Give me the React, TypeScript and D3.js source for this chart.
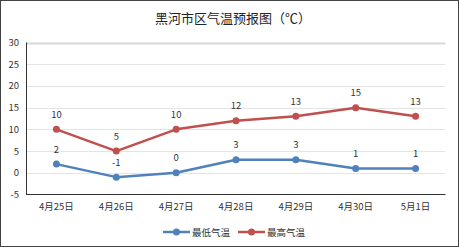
import React, { useEffect, useRef } from "react";
import * as d3 from "d3";

const categories = ["4月25日", "4月26日", "4月27日", "4月28日", "4月29日", "4月30日", "5月1日"];
const lowTemps = [2, -1, 0, 3, 3, 1, 1];
const highTemps = [10, 5, 10, 12, 13, 15, 13];
const yTicks = [-5, 0, 5, 10, 15, 20, 25, 30];
const seriesNames = ["最低气温", "最高气温"];
const title = "黑河市区气温预报图（℃）";

const W = 459, H = 247;
const FONT = "'Noto Sans CJK SC', 'DejaVu Sans', sans-serif";

export default function App() {
  const ref = useRef<SVGSVGElement>(null);
  useEffect(() => {
    const svg = d3.select(ref.current);
    svg.selectAll("*").remove();
    svg.append("rect").attr("x", 0.5).attr("y", 0.5).attr("width", W - 1).attr("height", H - 1)
      .attr("fill", "#fff").attr("stroke", "#444").attr("stroke-width", 1);

    const x = d3.scaleBand().domain(categories).range([26.5, 445.5]);
    const y = d3.scaleLinear().domain([-5, 30]).range([194.5, 42.5]);

    svg.append("text").attr("x", 233).attr("y", 23).attr("text-anchor", "middle")
      .attr("font-family", FONT).attr("font-size", 13).attr("fill", "#222").text(title);

    // grid
    svg.selectAll(".grid").data(yTicks.filter(t => t !== -5)).enter().append("line")
      .attr("x1", 26.5).attr("x2", 445.5)
      .attr("y1", d => Math.round(y(d)) + 0.5).attr("y2", d => Math.round(y(d)) + 0.5)
      .attr("stroke", d => (d === 30 ? "#d8d8d8" : "#e4e4e4")).attr("stroke-width", d => (d === 30 ? 2 : 1));

    // axes
    svg.append("line").attr("x1", 26.5).attr("x2", 26.5).attr("y1", y(30)).attr("y2", y(-5) + 0.5)
      .attr("stroke", "#333");
    svg.append("line").attr("x1", 26.5).attr("x2", 445.5).attr("y1", 194.5).attr("y2", 194.5)
      .attr("stroke", "#333");

    svg.selectAll(".yl").data(yTicks).enter().append("text")
      .attr("x", 19).attr("y", d => y(d) + 3.5).attr("text-anchor", "end")
      .attr("font-family", FONT).attr("font-size", 9.5).attr("fill", "#333").text(d => d);

    svg.selectAll(".xl").data(categories).enter().append("text")
      .attr("x", d => (x(d) as number) + x.bandwidth() / 2).attr("y", 210).attr("text-anchor", "middle")
      .attr("font-family", FONT).attr("font-size", 9.5).attr("fill", "#333").text(d => d);

    const series = [
      { name: seriesNames[0], values: lowTemps, color: "#4F81BD" },
      { name: seriesNames[1], values: highTemps, color: "#C0504D" },
    ];
    const cx = (i: number) => (x(categories[i]) as number) + x.bandwidth() / 2;
    const line = d3.line<number>().x((_, i) => cx(i)).y(d => y(d));
    series.forEach(s => {
      svg.append("path").attr("d", line(s.values)).attr("fill", "none")
        .attr("stroke", s.color).attr("stroke-width", 2.5).attr("stroke-linejoin", "round");
      s.values.forEach((v, i) => {
        svg.append("circle").attr("cx", cx(i)).attr("cy", y(v)).attr("r", 3.5).attr("fill", s.color);
        svg.append("text").attr("x", cx(i)).attr("y", y(v) - 11.5).attr("text-anchor", "middle")
          .attr("font-family", FONT).attr("font-size", 9.5).attr("fill", "#333").text(v);
      });
    });

    // legend
    const lx = [163, 238];
    series.forEach((s, i) => {
      const g = svg.append("g");
      g.append("line").attr("x1", lx[i]).attr("x2", lx[i] + 27).attr("y1", 232).attr("y2", 232)
        .attr("stroke", s.color).attr("stroke-width", 2.5);
      g.append("circle").attr("cx", lx[i] + 13.5).attr("cy", 232).attr("r", 3.5).attr("fill", s.color);
      g.append("text").attr("x", lx[i] + 29).attr("y", 235.5).attr("font-family", FONT)
        .attr("font-size", 9.5).attr("fill", "#333").text(s.name);
    });
  }, []);
  return (
    <div style={{ position: "fixed", left: 0, top: 0 }}>
      <svg ref={ref} width={W} height={H} style={{ display: "block" }} />
    </div>
  );
}
